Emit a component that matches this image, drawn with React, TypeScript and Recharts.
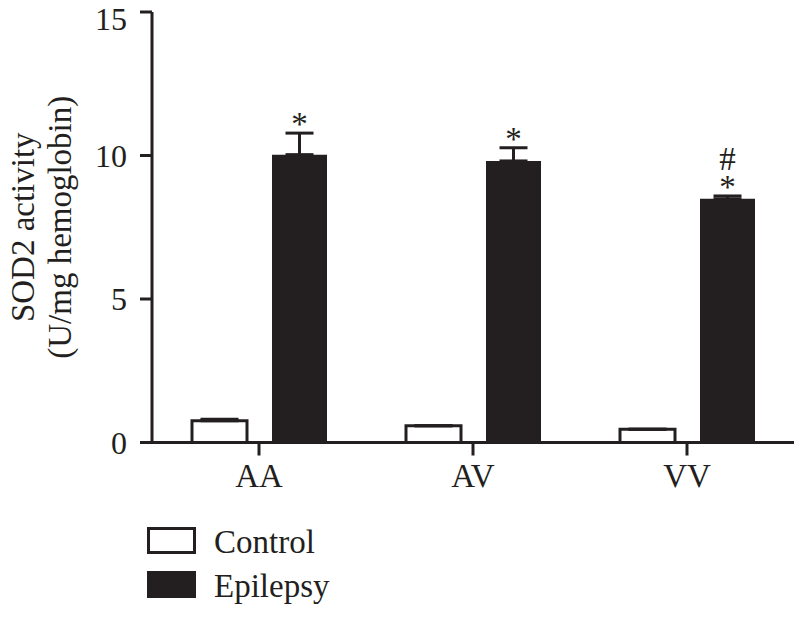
import React from 'react';
import { BarChart, Bar, XAxis, YAxis, ErrorBar, LabelList, Legend, Label } from 'recharts';

const genotypes = ['AA', 'AV', 'VV'];
const controlValues = [0.76, 0.58, 0.46];
const controlErrors = [0.05, 0, 0];
const epilepsyValues = [10.03, 9.81, 8.49];
const epilepsyErrors = [0.75, 0.46, 0.1];
const epilepsyMarks = ['*', '*', '#\n*'];
const yTicks = [0, 5, 10, 15];
const seriesNames = ['Control', 'Epilepsy'];
const yLabelLines = ['SOD2 activity', '(U/mg hemoglobin)'];

const INK = '#231f20';
const FONT = '"Liberation Serif", "Times New Roman", serif';

const data = genotypes.map((g, i) => ({
  genotype: g,
  control: controlValues[i],
  controlErr: [0, controlErrors[i]],
  epilepsy: epilepsyValues[i],
  epilepsyErr: [0, epilepsyErrors[i]],
  marks: epilepsyMarks[i],
}));

const MARK_FS = 33;
const MARK_LH = 28;
const MARK_BASE_IN_LINE = (MARK_LH - MARK_FS * (0.891 + 0.216)) / 2 + MARK_FS * 0.891;

const MarkLabel = (props: any) => {
  const { x, y, width, height, value, index } = props;
  if (x == null || !value) return null;
  const v = epilepsyValues[index];
  const pxPerUnit = height / v;
  const errTop = y - epilepsyErrors[index] * pxPerUnit;
  const cx = x + width / 2;
  const starCenter = errTop - 13;
  const lines = String(value).split('\n');
  const n = lines.length;
  const starBaseline = starCenter + 15;
  const top = starBaseline - MARK_BASE_IN_LINE - MARK_LH * (n - 1);
  const w = 60;
  return (
    <foreignObject x={cx - w / 2} y={top} width={w} height={MARK_LH * n + 4} style={{ overflow: 'visible' }}>
      <div
        style={{
          width: w,
          textAlign: 'center',
          fontFamily: FONT,
          fontSize: MARK_FS,
          lineHeight: `${MARK_LH}px`,
          color: INK,
          whiteSpace: 'pre',
          margin: 0,
          padding: 0,
        }}
      >
        {lines.join('\n')}
      </div>
    </foreignObject>
  );
};

const YLabel = (props: any) => {
  const vb = props.viewBox || {};
  const cy = (vb.y ?? 12) + (vb.height ?? 430) / 2;
  const xs = [23, 60];
  return (
    <g>
      {yLabelLines.map((t, i) => (
        <text
          key={i}
          x={xs[i]}
          y={cy}
          textAnchor="middle"
          dominantBaseline="central"
          transform={`rotate(-90, ${xs[i]}, ${cy})`}
          fontFamily={FONT}
          fontSize={33}
          fill={INK}
        >
          {t}
        </text>
      ))}
    </g>
  );
};

const LegendContent = () => (
  <svg width={260} height={100} style={{ display: 'block', overflow: 'visible' }}>
    <rect x={8.5} y={14.5} width={46} height={24} fill="#ffffff" stroke={INK} strokeWidth={3} />
    <text x={74} y={39} fontFamily={FONT} fontSize={33} fill={INK}>{seriesNames[0]}</text>
    <rect x={7} y={57} width={49} height={27} fill={INK} />
    <text x={74} y={83} fontFamily={FONT} fontSize={33} fill={INK}>{seriesNames[1]}</text>
  </svg>
);

export default function App() {
  return (
    <div style={{ position: 'absolute', left: 0, top: 0, width: 794, height: 636, background: '#fff' }}>
      <BarChart
        width={794}
        height={636}
        data={data}
        margin={{ top: 12, right: 0, left: 0, bottom: 133.5 }}
        barGap={25}
      >
        <XAxis
          dataKey="genotype"
          height={60}
          tickSize={13}
          tickMargin={8}
          axisLine={{ stroke: INK, strokeWidth: 3 }}
          tickLine={{ stroke: INK, strokeWidth: 3 }}
          tick={{ fill: INK, fontFamily: FONT, fontSize: 33 }}
        />
        <YAxis
          width={152}
          domain={[0, 15]}
          ticks={yTicks}
          tickSize={12}
          tickMargin={13}
          allowDataOverflow
          axisLine={{ stroke: INK, strokeWidth: 3 }}
          tickLine={{ stroke: INK, strokeWidth: 3 }}
          tick={{ fill: INK, fontFamily: FONT, fontSize: 32 }}
        >
          <Label content={<YLabel />} />
        </YAxis>
        <Legend
          layout="vertical"
          align="center"
          verticalAlign="middle"
          content={<LegendContent />}
          wrapperStyle={{ position: 'absolute', left: 140, top: 514, width: 260, height: 100 }}
        />
        <Bar
          dataKey="control"
          name={seriesNames[0]}
          barSize={55}
          fill="#ffffff"
          stroke={INK}
          strokeWidth={3}
          isAnimationActive={false}
        >
          <ErrorBar dataKey="controlErr" width={19} stroke={INK} strokeWidth={3} direction="y" />
        </Bar>
        <Bar
          dataKey="epilepsy"
          name={seriesNames[1]}
          barSize={55}
          fill={INK}
          isAnimationActive={false}
        >
          <ErrorBar dataKey="epilepsyErr" width={14} stroke={INK} strokeWidth={3} direction="y" />
          <LabelList dataKey="marks" content={<MarkLabel />} />
        </Bar>
      </BarChart>
    </div>
  );
}
